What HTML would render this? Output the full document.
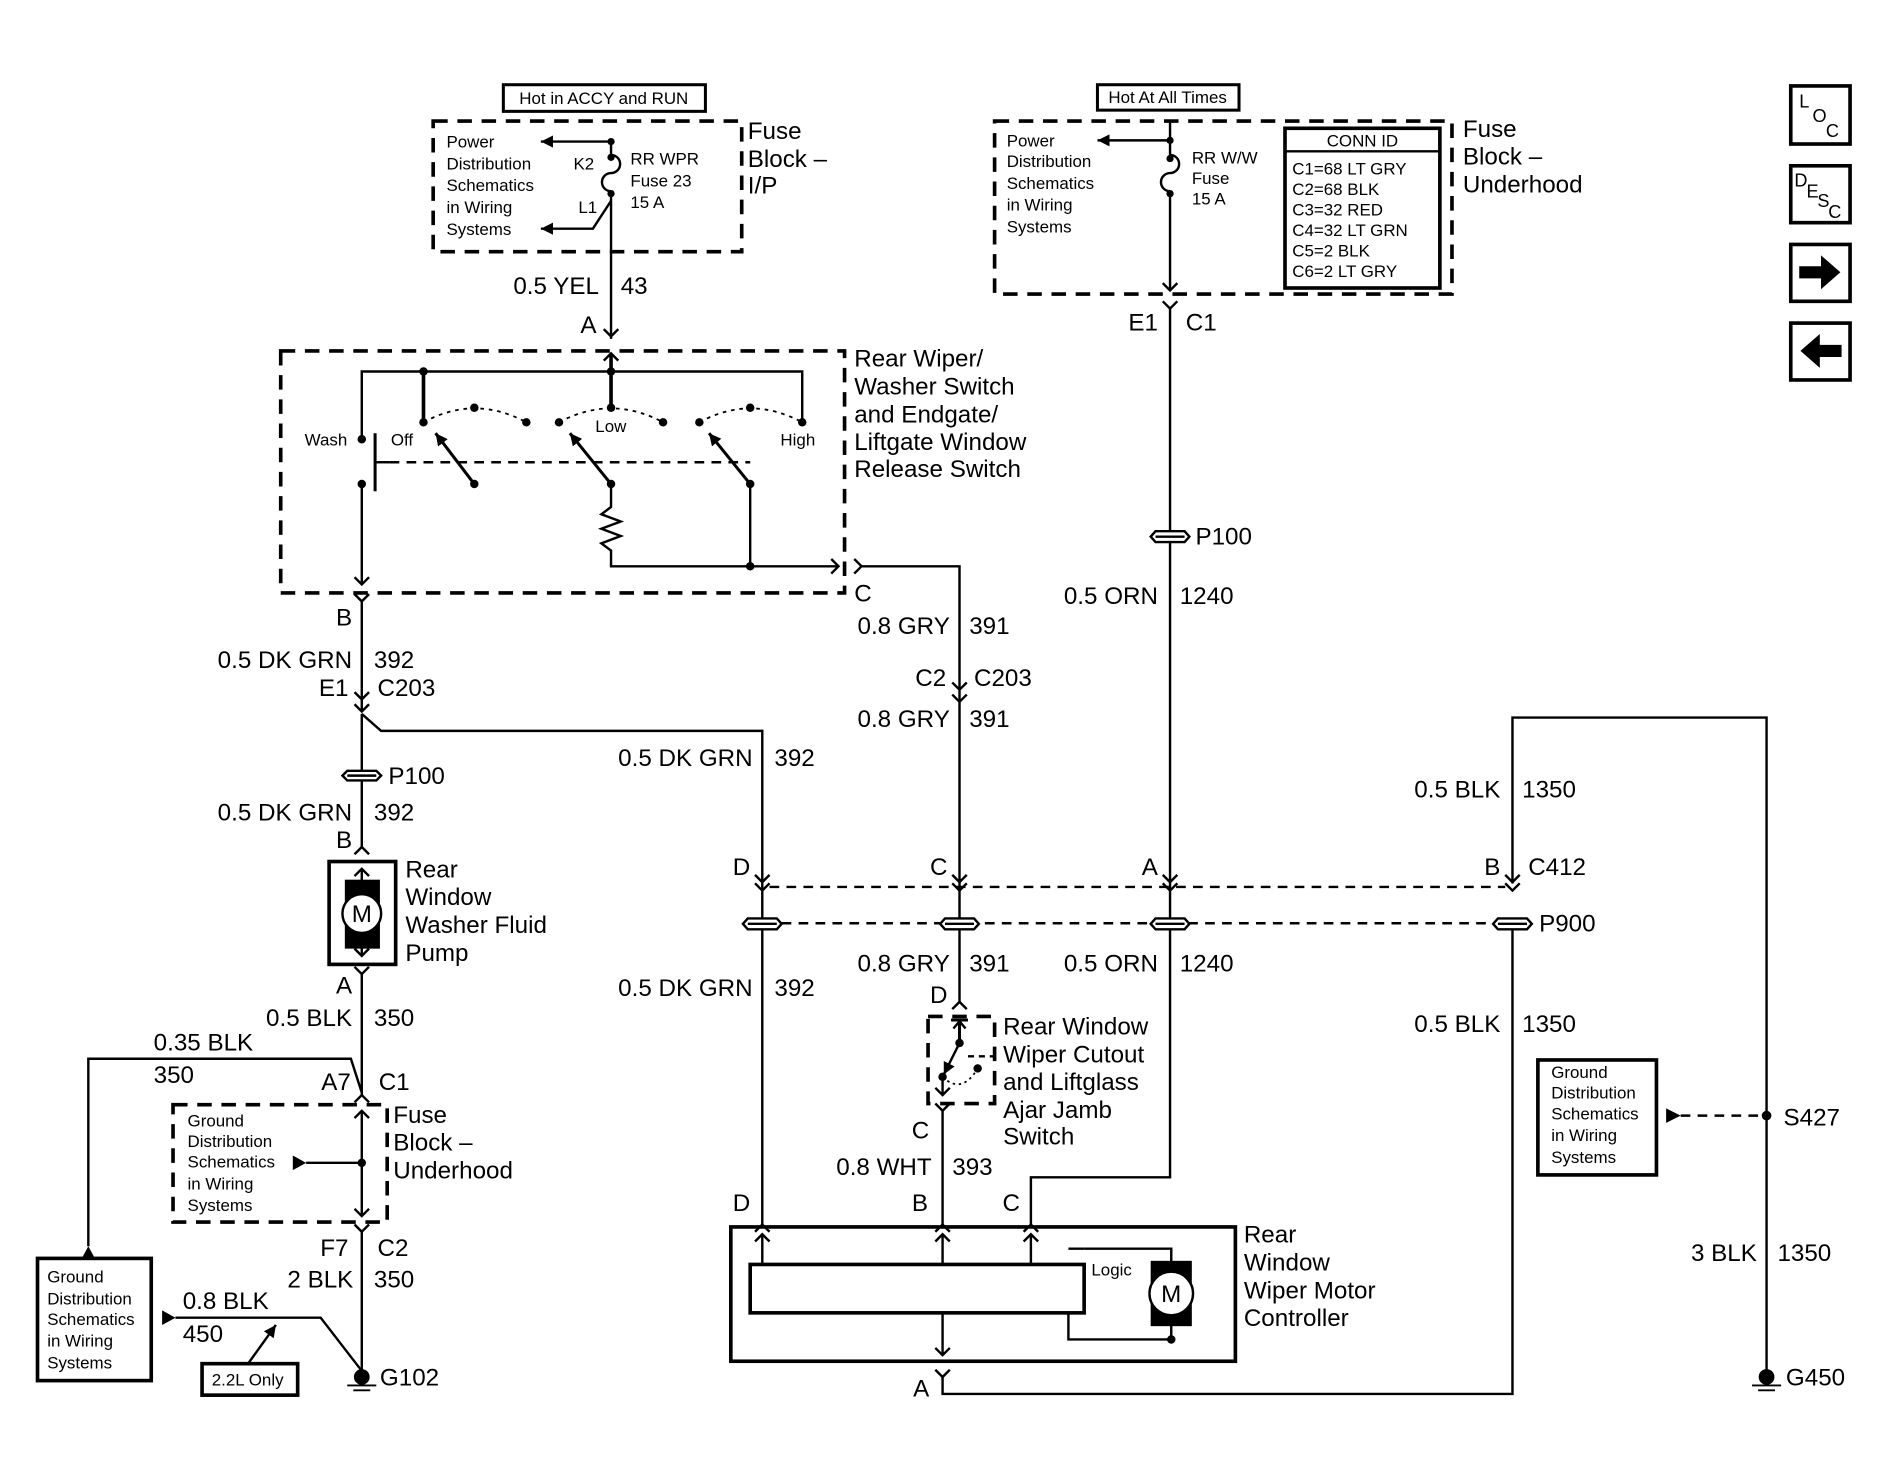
<!DOCTYPE html>
<html><head><meta charset="utf-8"><style>
html,body{margin:0;padding:0;background:#fff;}
svg{display:block;}
text{font-family:"Liberation Sans",Arial,sans-serif;fill:#000;}
.m{font-size:20px;}
.s{font-size:14px;}
.e{text-anchor:end;}
</style></head><body>
<svg width="1897" height="1472" viewBox="0 0 1567.8 1216.5" xmlns="http://www.w3.org/2000/svg">
<defs>
<marker id="ah" viewBox="0 0 10 10" refX="10" refY="5" markerWidth="10" markerHeight="10" markerUnits="userSpaceOnUse" orient="auto"><path d="M0,0 L10,5 L0,10 z" fill="#000"/></marker>
</defs>
<g fill="none" stroke="#000" stroke-width="2">

<rect x="416" y="70" width="167" height="22" stroke-width="2.5"/>
<rect x="358" y="100" width="255" height="108" stroke-width="3" stroke-dasharray="12,8"/>
<line x1="505" y1="117" x2="505" y2="128"/>
<path d="M505,128 a7,7 0 0 1 0,15 a7,7 0 0 0 0,15"/>
<line x1="505" y1="158" x2="505" y2="280"/>
<line x1="505" y1="117" x2="447" y2="117" marker-end="url(#ah)"/>
<path d="M505,166 L490,189 L447,189" marker-end="url(#ah)"/>
<path d="M499,272 L505,278 L511,272"/>

<rect x="232" y="290" width="466" height="200" stroke-width="3" stroke-dasharray="12,8"/>
<path d="M499,298 L505,292 L511,298"/>
<line x1="505" y1="292" x2="505" y2="337" stroke-width="3"/>
<polyline points="299,363 299,307 663,307 663,349"/>
<line x1="350" y1="307" x2="350" y2="349" stroke-width="3"/>
<line x1="299" y1="400" x2="299" y2="483"/>
<path d="M293,477 L299,483 L305,477"/>
<line x1="310" y1="358" x2="310" y2="406" stroke-width="2.5"/>
<line x1="310" y1="382" x2="322" y2="382"/>
<line x1="322" y1="382" x2="620" y2="382" stroke-dasharray="8,6"/>
<path d="M350,349 Q392,326 435,349" stroke-dasharray="3,4" stroke-width="1.5"/>
<path d="M462,349 Q505,326 548,349" stroke-dasharray="3,4" stroke-width="1.5"/>
<path d="M578,349 Q620,326 663,349" stroke-dasharray="3,4" stroke-width="1.5"/>
<line x1="392" y1="400" x2="360" y2="358" marker-end="url(#ah)" stroke-width="2.5"/>
<line x1="505" y1="400" x2="471" y2="358" marker-end="url(#ah)" stroke-width="2.5"/>
<line x1="620" y1="400" x2="586" y2="358" marker-end="url(#ah)" stroke-width="2.5"/>
<polyline points="505,400 505,419 497,425 513,431 497,437 513,443 497,449 505,455 505,468 693,468"/>
<line x1="620" y1="400" x2="620" y2="468"/>
<path d="M687,462 L693,468 L687,474"/>
<path d="M706,462 L712,468 L706,474"/>
<polyline points="712,468 793,468 793,570"/>
<path d="M293,491 L299,497 L305,491"/>
<line x1="299" y1="497" x2="299" y2="588"/>
<path d="M293,572 L299,578 L305,572"/>
<path d="M293,582 L299,588 L305,582"/>
<polyline points="299,590 315,604 630,604 630,735"/>
<line x1="299" y1="590" x2="299" y2="700"/>

<path d="M293,706 L299,700 L305,706"/>
<rect x="272" y="712" width="55" height="85" stroke-width="3"/>
<line x1="299" y1="718" x2="299" y2="790"/>
<path d="M293,724 L299,718 L305,724"/>
<path d="M293,784 L299,790 L305,784"/>
<rect x="286" y="728" width="27" height="55" fill="#000"/>
<circle cx="299" cy="755" r="16" fill="#fff" stroke-width="2"/>
<path d="M293,799 L299,805 L305,799"/>
<line x1="299" y1="805" x2="299" y2="905"/>
<polyline points="73,1030 73,875 290,875 299,903"/>
<path d="M293,911 L299,905 L305,911"/>
<rect x="143" y="913" width="177" height="97" stroke-width="3" stroke-dasharray="12,8"/>
<line x1="299" y1="918" x2="299" y2="1005"/>
<path d="M293,924 L299,918 L305,924"/>
<path d="M293,999 L299,1005 L305,999"/>
<line x1="299" y1="961" x2="253" y2="961"/>
<path d="M293,1012 L299,1018 L305,1012"/>
<line x1="299" y1="1018" x2="299" y2="1137"/>
<line x1="287" y1="1145" x2="311" y2="1145" stroke-width="1.5"/>
<line x1="292" y1="1149" x2="306" y2="1149" stroke-width="1.5"/>
<rect x="31" y="1040" width="94" height="101" stroke-width="3"/>
<polyline points="145,1089 265,1089 299,1133"/>
<rect x="167" y="1127" width="79" height="26" stroke-width="3"/>
<line x1="205" y1="1127" x2="228" y2="1095" marker-end="url(#ah)" stroke-width="2"/>

<line x1="793" y1="570" x2="793" y2="828"/>
<path d="M787,564 L793,570 L799,564"/>
<path d="M787,574 L793,580 L799,574"/>
<path d="M624,723 L630,729 L636,723"/>
<path d="M624,730 L630,736 L636,730"/>
<path d="M787,723 L793,729 L799,723"/>
<path d="M787,730 L793,736 L799,730"/>
<path d="M961,723 L967,729 L973,723"/>
<path d="M961,730 L967,736 L973,730"/>
<path d="M1244,723 L1250,729 L1256,723"/>
<path d="M1244,730 L1250,736 L1256,730"/>
<line x1="636" y1="733" x2="1244" y2="733" stroke-dasharray="8,6"/>
<line x1="646" y1="763" x2="1236" y2="763" stroke-dasharray="8,6"/>
<line x1="630" y1="735" x2="630" y2="1012"/>

<path d="M787,834 L793,828 L799,834"/>
<rect x="767" y="840" width="55" height="72" stroke-width="3" stroke-dasharray="12,8"/>
<line x1="786" y1="843" x2="800" y2="843" stroke-width="2.5"/>
<line x1="793" y1="843" x2="793" y2="862" stroke-width="2.5"/>
<path d="M788,850 L793,844 L798,850"/>
<line x1="793" y1="862" x2="780" y2="888" marker-end="url(#ah)" stroke-width="2"/>
<line x1="800" y1="873" x2="822" y2="873" stroke-dasharray="5,4"/>
<path d="M779,890 Q795,905 808,883" stroke-dasharray="2,3" stroke-width="1.5"/>
<line x1="779" y1="890" x2="779" y2="905"/>
<path d="M773,899 L779,905 L785,899"/>
<path d="M773,912 L779,918 L785,912"/>
<line x1="779" y1="918" x2="779" y2="1012"/>

<line x1="967" y1="100" x2="967" y2="128"/>
<path d="M967,128 a7,7 0 0 1 0,15 a7,7 0 0 0 0,15"/>
<line x1="967" y1="158" x2="967" y2="240"/>
<path d="M961,234 L967,240 L973,234"/>
<line x1="967" y1="116" x2="907" y2="116" marker-end="url(#ah)"/>
<path d="M961,249 L967,255 L973,249"/>
<polyline points="967,255 967,973 852,973 852,1012"/>

<polyline points="1250,730 1250,593 1460,593 1460,1137"/>
<polyline points="779,1138 779,1152 1250,1152 1250,763"/>
<line x1="1389" y1="922" x2="1460" y2="922" stroke-dasharray="8,6"/>
<rect x="1271" y="876" width="98" height="95" stroke-width="3"/>
<line x1="1448" y1="1145" x2="1472" y2="1145" stroke-width="1.5"/>
<line x1="1453" y1="1149" x2="1467" y2="1149" stroke-width="1.5"/>

<path d="M624,1018 L630,1012 L636,1018"/>
<path d="M773,1018 L779,1012 L785,1018"/>
<path d="M846,1018 L852,1012 L858,1018"/>
<rect x="604" y="1014" width="417" height="111" stroke-width="3"/>
<line x1="630" y1="1020" x2="630" y2="1045"/>
<line x1="779" y1="1020" x2="779" y2="1045"/>
<line x1="852" y1="1020" x2="852" y2="1045"/>
<path d="M624,1026 L630,1020 L636,1026"/>
<path d="M773,1026 L779,1020 L785,1026"/>
<path d="M846,1026 L852,1020 L858,1026"/>
<rect x="620" y="1045" width="276" height="40" stroke-width="3"/>
<line x1="779" y1="1085" x2="779" y2="1120"/>
<path d="M773,1114 L779,1120 L785,1114"/>
<path d="M773,1132 L779,1138 L785,1132"/>
<polyline points="896,1032 968,1032 968,1107 883,1107 883,1085" stroke-width="2"/>
<line x1="883" y1="1032" x2="896" y2="1032"/>
<rect x="952" y="1043" width="32" height="52" fill="#000"/>
<circle cx="968" cy="1069" r="18" fill="#fff" stroke-width="2"/>

<rect x="907" y="70" width="117" height="21" stroke-width="2.5"/>
<rect x="822" y="100" width="378" height="143" stroke-width="3" stroke-dasharray="12,8"/>
<rect x="1062" y="106" width="128" height="132" stroke-width="3"/>
<line x1="1062" y1="125" x2="1190" y2="125" stroke-width="2"/>

<rect x="1480" y="71" width="49" height="48" stroke-width="3"/>
<rect x="1480" y="137" width="49" height="47" stroke-width="3"/>
<rect x="1480" y="202" width="49" height="47" stroke-width="3"/>
<rect x="1480" y="267" width="49" height="47" stroke-width="3"/>
</g>

<g fill="#000" stroke="none">
<circle cx="505" cy="117" r="3"/><circle cx="505" cy="130" r="3"/><circle cx="505" cy="160" r="3"/>
<circle cx="967" cy="116" r="3"/><circle cx="967" cy="131" r="3"/><circle cx="967" cy="160" r="3"/>
<circle cx="350" cy="307" r="3.5"/><circle cx="505" cy="307" r="3.5"/>
<circle cx="350" cy="349" r="3.5"/><circle cx="392" cy="337" r="3.5"/><circle cx="435" cy="349" r="3.5"/>
<circle cx="462" cy="349" r="3.5"/><circle cx="505" cy="337" r="3.5"/><circle cx="548" cy="349" r="3.5"/>
<circle cx="578" cy="349" r="3.5"/><circle cx="620" cy="337" r="3.5"/><circle cx="663" cy="349" r="3.5"/>
<circle cx="299" cy="363" r="3.5"/><circle cx="299" cy="400" r="3.5"/>
<circle cx="392" cy="400" r="3.5"/><circle cx="505" cy="400" r="3.5"/><circle cx="620" cy="400" r="3.5"/>
<circle cx="620" cy="468" r="3.5"/>
<circle cx="299" cy="961" r="3.5"/>
<path d="M253,961 L242,955 L242,967 z"/>
<path d="M73,1030 L67,1041 L79,1041 z"/>
<path d="M145,1089 L134,1083 L134,1095 z"/>
<circle cx="299" cy="1138" r="6.5"/>
<circle cx="1460" cy="1138" r="6.5"/>
<circle cx="1460" cy="922" r="4"/>
<path d="M1389,922 L1377,916 L1377,928 z"/>
<circle cx="793" cy="862" r="3.5"/><circle cx="779" cy="890" r="3.5"/><circle cx="808" cy="883" r="3.5"/>
<circle cx="968" cy="1107" r="3.5"/>
<path d="M1487,220 L1505,220 L1505,211 L1521,225 L1505,239 L1505,230 L1487,230 z"/>
<path d="M1522,285 L1504,285 L1504,276 L1488,290 L1504,304 L1504,295 L1522,295 z"/>
</g>

<g fill="#fff" stroke="#000" stroke-width="2">
<path d="M955,439 L979,439 L983,443.5 L979,448 L955,448 L951,443.5 z"/>
<path d="M618,759 L642,759 L646,763.5 L642,768 L618,768 L614,763.5 z"/>
<path d="M781,759 L805,759 L809,763.5 L805,768 L781,768 L777,763.5 z"/>
<path d="M955,759 L979,759 L983,763.5 L979,768 L955,768 L951,763.5 z"/>
<path d="M1238,759 L1262,759 L1266,763.5 L1262,768 L1238,768 L1234,763.5 z"/>
<path d="M287,637 L311,637 L315,641 L311,645 L287,645 L283,641 z"/>
</g>
<g stroke="#000" stroke-width="2">
<line x1="955" y1="443.5" x2="979" y2="443.5"/>
<line x1="618" y1="763.5" x2="642" y2="763.5"/>
<line x1="781" y1="763.5" x2="805" y2="763.5"/>
<line x1="955" y1="763.5" x2="979" y2="763.5"/>
<line x1="1238" y1="763.5" x2="1262" y2="763.5"/>
<line x1="287" y1="641" x2="311" y2="641"/>
</g>

<text class="s" x="499" y="86" text-anchor="middle">Hot in ACCY and RUN</text>
<g class="s">
<text x="369" y="122">Power</text><text x="369" y="140">Distribution</text><text x="369" y="158">Schematics</text><text x="369" y="176">in Wiring</text><text x="369" y="194">Systems</text>
<text x="474" y="140">K2</text><text x="478" y="176">L1</text>
<text x="521" y="136">RR WPR</text><text x="521" y="154">Fuse 23</text><text x="521" y="172">15 A</text>
<text x="287" y="368" class="s e">Wash</text><text x="323" y="368">Off</text><text x="492" y="357">Low</text><text x="645" y="368">High</text>
<text x="155" y="931">Ground</text><text x="155" y="948">Distribution</text><text x="155" y="965">Schematics</text><text x="155" y="983">in Wiring</text><text x="155" y="1001">Systems</text>
<text x="39" y="1060">Ground</text><text x="39" y="1078">Distribution</text><text x="39" y="1095">Schematics</text><text x="39" y="1113">in Wiring</text><text x="39" y="1131">Systems</text>
<text x="175" y="1145">2.2L Only</text>
<text x="902" y="1054">Logic</text>
<text x="965" y="85" text-anchor="middle">Hot At All Times</text>
<text x="832" y="121">Power</text><text x="832" y="138">Distribution</text><text x="832" y="156">Schematics</text><text x="832" y="174">in Wiring</text><text x="832" y="192">Systems</text>
<text x="985" y="135">RR W/W</text><text x="985" y="152">Fuse</text><text x="985" y="169">15 A</text>
<text x="1126" y="121" text-anchor="middle">CONN ID</text>
<text x="1068" y="144">C1=68 LT GRY</text><text x="1068" y="161">C2=68 BLK</text><text x="1068" y="178">C3=32 RED</text><text x="1068" y="195">C4=32 LT GRN</text><text x="1068" y="212">C5=2 BLK</text><text x="1068" y="229">C6=2 LT GRY</text>
<text x="1282" y="891">Ground</text><text x="1282" y="908">Distribution</text><text x="1282" y="925">Schematics</text><text x="1282" y="943">in Wiring</text><text x="1282" y="961">Systems</text>
</g>
<g class="s">
<text x="1487" y="89" font-size="15">L</text><text x="1498" y="101" font-size="15">O</text><text x="1509" y="113" font-size="15">C</text>
<text x="1483" y="154" font-size="15">D</text><text x="1493" y="163" font-size="15">E</text><text x="1502" y="171" font-size="15">S</text><text x="1511" y="180" font-size="15">C</text>
</g>
<g class="m">
<text x="618" y="115">Fuse</text><text x="618" y="138">Block –</text><text x="618" y="160">I/P</text>
<text x="495" y="243" class="m e">0.5 YEL</text><text x="513" y="243">43</text>
<text x="493" y="275" class="m e">A</text>
<text x="706" y="303">Rear Wiper/</text><text x="706" y="326">Washer Switch</text><text x="706" y="349">and Endgate/</text><text x="706" y="372">Liftgate Window</text><text x="706" y="394">Release Switch</text>
<text x="706" y="497">C</text>
<text x="291" y="517" class="m e">B</text>
<text x="291" y="552" class="m e">0.5 DK GRN</text><text x="309" y="552">392</text>
<text x="288" y="575" class="m e">E1</text><text x="312" y="575">C203</text>
<text x="321" y="648">P100</text>
<text x="291" y="678" class="m e">0.5 DK GRN</text><text x="309" y="678">392</text>
<text x="291" y="701" class="m e">B</text>
<text x="335" y="725">Rear</text><text x="335" y="748">Window</text><text x="335" y="771">Washer Fluid</text><text x="335" y="794">Pump</text>
<text x="291" y="821" class="m e">A</text>
<text x="291" y="848" class="m e">0.5 BLK</text><text x="309" y="848">350</text>
<text x="127" y="868">0.35 BLK</text><text x="127" y="895">350</text>
<text x="290" y="901" class="m e">A7</text><text x="313" y="901">C1</text>
<text x="325" y="928">Fuse</text><text x="325" y="951">Block –</text><text x="325" y="974">Underhood</text>
<text x="288" y="1038" class="m e">F7</text><text x="312" y="1038">C2</text>
<text x="292" y="1064" class="m e">2 BLK</text><text x="309" y="1064">350</text>
<text x="151" y="1082">0.8 BLK</text><text x="151" y="1109">450</text>
<text x="314" y="1145">G102</text>
<text x="785" y="524" class="m e">0.8 GRY</text><text x="801" y="524">391</text>
<text x="782" y="567" class="m e">C2</text><text x="805" y="567">C203</text>
<text x="785" y="601" class="m e">0.8 GRY</text><text x="801" y="601">391</text>
<text x="622" y="633" class="m e">0.5 DK GRN</text><text x="640" y="633">392</text>
<text x="620" y="723" class="m e">D</text><text x="783" y="723" class="m e">C</text><text x="957" y="723" class="m e">A</text><text x="1240" y="723" class="m e">B</text><text x="1263" y="723">C412</text>
<text x="1272" y="770">P900</text>
<text x="622" y="823" class="m e">0.5 DK GRN</text><text x="640" y="823">392</text>
<text x="785" y="803" class="m e">0.8 GRY</text><text x="801" y="803">391</text>
<text x="957" y="803" class="m e">0.5 ORN</text><text x="975" y="803">1240</text>
<text x="783" y="829" class="m e">D</text>
<text x="829" y="855">Rear Window</text><text x="829" y="878">Wiper Cutout</text><text x="829" y="901">and Liftglass</text><text x="829" y="924">Ajar Jamb</text><text x="829" y="946">Switch</text>
<text x="768" y="941" class="m e">C</text>
<text x="770" y="971" class="m e">0.8 WHT</text><text x="787" y="971">393</text>
<text x="620" y="1001" class="m e">D</text><text x="767" y="1001" class="m e">B</text><text x="843" y="1001" class="m e">C</text>
<text x="1028" y="1027">Rear</text><text x="1028" y="1050">Window</text><text x="1028" y="1073">Wiper Motor</text><text x="1028" y="1096">Controller</text>
<text x="768" y="1154" class="m e">A</text>
<text x="1209" y="113">Fuse</text><text x="1209" y="136">Block –</text><text x="1209" y="159">Underhood</text>
<text x="957" y="273" class="m e">E1</text><text x="980" y="273">C1</text>
<text x="988" y="450">P100</text>
<text x="957" y="499" class="m e">0.5 ORN</text><text x="975" y="499">1240</text>
<text x="1240" y="659" class="m e">0.5 BLK</text><text x="1258" y="659">1350</text>
<text x="1240" y="853" class="m e">0.5 BLK</text><text x="1258" y="853">1350</text>
<text x="1474" y="930">S427</text>
<text x="1452" y="1042" class="m e">3 BLK</text><text x="1469" y="1042">1350</text>
<text x="1476" y="1145">G450</text>
<text x="299" y="762" text-anchor="middle">M</text>
<text x="968" y="1076" text-anchor="middle">M</text>
</g>
</svg>
</body></html>
